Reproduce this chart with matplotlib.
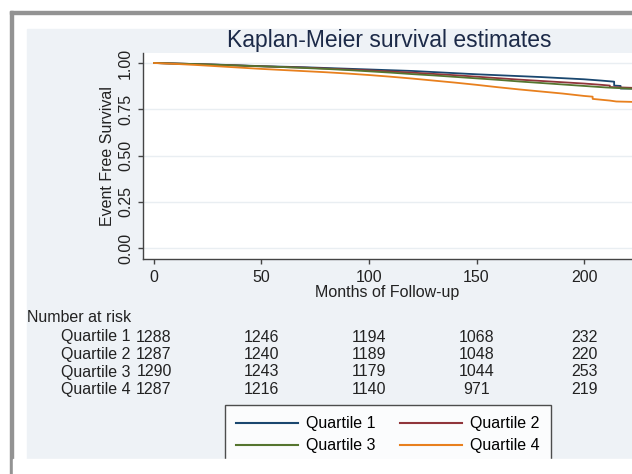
import matplotlib
matplotlib.use('Agg')
import matplotlib.pyplot as plt
from matplotlib.patches import Rectangle
from matplotlib.lines import Line2D
from matplotlib.transforms import blended_transform_factory

plt.rcParams['font.family'] = ['Liberation Sans', 'DejaVu Sans']

# survival estimates (months, event free survival)
base_months = [0, 10, 20, 30, 40, 50, 60, 70, 80, 90, 100, 110, 120, 130, 140,
               150, 160, 170, 180, 190, 200]
q1_months = base_months + [208, 214, 214, 217, 217, 222]
q1_surv = [1.000, 0.997, 0.994, 0.991, 0.987, 0.983, 0.980, 0.977, 0.973, 0.969,
           0.965, 0.961, 0.957, 0.951, 0.945, 0.939, 0.934, 0.929, 0.924, 0.918,
           0.912, 0.905, 0.899, 0.878, 0.876, 0.862, 0.862]
q2_months = base_months + [208, 212, 212, 222]
q2_surv = [1.000, 0.997, 0.994, 0.990, 0.986, 0.982, 0.978, 0.975, 0.970, 0.965,
           0.960, 0.954, 0.948, 0.941, 0.934, 0.926, 0.918, 0.910, 0.903, 0.896,
           0.889, 0.882, 0.878, 0.870, 0.866]
q3_months = base_months + [210, 222]
q3_surv = [1.000, 0.997, 0.994, 0.990, 0.986, 0.982, 0.978, 0.973, 0.968, 0.962,
           0.955, 0.948, 0.940, 0.933, 0.925, 0.917, 0.909, 0.900, 0.892, 0.884,
           0.876, 0.868, 0.861]
q4_months = base_months + [204, 204, 212, 215, 222]
q4_surv = [1.000, 0.995, 0.989, 0.982, 0.975, 0.968, 0.962, 0.956, 0.950, 0.943,
           0.935, 0.926, 0.916, 0.905, 0.894, 0.882, 0.869, 0.857, 0.846, 0.835,
           0.822, 0.818, 0.806, 0.797, 0.792, 0.790]

labels = ['Quartile 1', 'Quartile 2', 'Quartile 3', 'Quartile 4']
colors = ['#1a476f', '#90353b', '#55752f', '#e8801e']

risk_times = [0, 50, 100, 150, 200]
risk_q1 = [1288, 1246, 1194, 1068, 232]
risk_q2 = [1287, 1240, 1189, 1048, 220]
risk_q3 = [1290, 1243, 1179, 1044, 253]
risk_q4 = [1287, 1216, 1140, 971, 219]

x_ticks = [0, 50, 100, 150, 200]
y_ticks = [0.0, 0.25, 0.5, 0.75, 1.0]
y_tick_labels = ['0.00', '0.25', '0.50', '0.75', '1.00']

W, H = 632, 474
fig = plt.figure(figsize=(W / 100, H / 100), dpi=100, facecolor='white')


def fx(px):
    return px / W


def fy(py):
    return 1 - py / H


# outer frame and light panel
fig.patches.append(Rectangle((fx(10), 0), fx(3), fy(11), transform=fig.transFigure,
                             color='#939393', zorder=-2))
fig.patches.append(Rectangle((fx(10), fy(14)), 1, 3 / H, transform=fig.transFigure,
                             color='#939393', zorder=-2))
fig.patches.append(Rectangle((fx(27), fy(459)), 1, fy(29) - fy(459), transform=fig.transFigure,
                             color='#eef2f6', zorder=-1))

ax = fig.add_axes([fx(143), fy(259), 1 - fx(143), fy(53) - fy(259)])
ax.set_facecolor('white')

series = [(q1_months, q1_surv), (q2_months, q2_surv), (q3_months, q3_surv), (q4_months, q4_surv)]
for (t, surv), lab, col in zip(series, labels, colors):
    ax.plot(t, surv, color=col, lw=1.3, label=lab)

ax.set_xlim(-5.1, 222.3)
ax.set_ylim(-0.059, 1.054)
ax.set_xticks(x_ticks)
ax.set_yticks(y_ticks)
ax.set_yticklabels(y_tick_labels)
ax.grid(axis='y', color='#e9eef2', lw=1)
ax.set_axisbelow(True)

for side in ['top', 'right']:
    ax.spines[side].set_visible(False)
for side in ['left', 'bottom']:
    ax.spines[side].set_color('#444444')
    ax.spines[side].set_linewidth(1)

ax.tick_params(axis='both', colors='#444444', labelcolor='#222222', labelsize=11.5,
               length=3.6, width=1)
ax.tick_params(axis='x', pad=4.5)
ax.tick_params(axis='y', pad=3.6, labelrotation=90)
plt.setp(ax.get_yticklabels(), va='center')

ax.set_xlabel('Months of Follow-up', fontsize=11.5, color='#222222')
ax.xaxis.set_label_coords(0.5, (259 - 293) / 206)
ax.xaxis.label.set_va('center')
ax.set_ylabel('Event Free Survival', fontsize=11.5, color='#222222')
ax.yaxis.set_label_coords((107 - 143) / 489, 0.5)
ax.yaxis.label.set_va('center')

fig.text(fx(389), fy(40), 'Kaplan-Meier survival estimates', ha='center', va='center',
         fontsize=16.5, color='#1c2a48')

# number at risk table
fig.text(fx(27), fy(317), 'Number at risk', ha='left', va='center',
         fontsize=11.5, color='#222222')
trans = blended_transform_factory(ax.transData, fig.transFigure)
row_y = [337, 354.5, 372, 389.5]
for lab, counts, py in zip(labels, [risk_q1, risk_q2, risk_q3, risk_q4], row_y):
    fig.text(fx(61), fy(py), lab, ha='left', va='center', fontsize=11.5, color='#222222')
    for t, n in zip(risk_times, counts):
        ax.text(t, fy(py), str(n), transform=trans, ha='center', va='center',
                fontsize=11.5, color='#222222', clip_on=False)

# legend is filled row by row in the reference
order = [0, 2, 1, 3]
handles = [Line2D([], [], color=colors[i], lw=1.5) for i in order]
leg = fig.legend(handles, [labels[i] for i in order], loc='upper left',
                 bbox_to_anchor=(fx(225), fy(405)),
                 ncol=2, fontsize=11.5, frameon=True, fancybox=False,
                 borderaxespad=0, borderpad=0.7, labelspacing=0.45,
                 handlelength=3.9, handletextpad=0.5, columnspacing=1.5)
leg.get_frame().set_edgecolor('#222222')
leg.get_frame().set_linewidth(1.0)
leg.get_frame().set_facecolor('white')
leg.set_zorder(5)

# the picture is cut off below the panel
fig.patches.append(Rectangle((fx(13), 0), 1, fy(459), transform=fig.transFigure,
                             color='white', zorder=10))

fig.savefig('out.png', dpi=100, facecolor='white')
